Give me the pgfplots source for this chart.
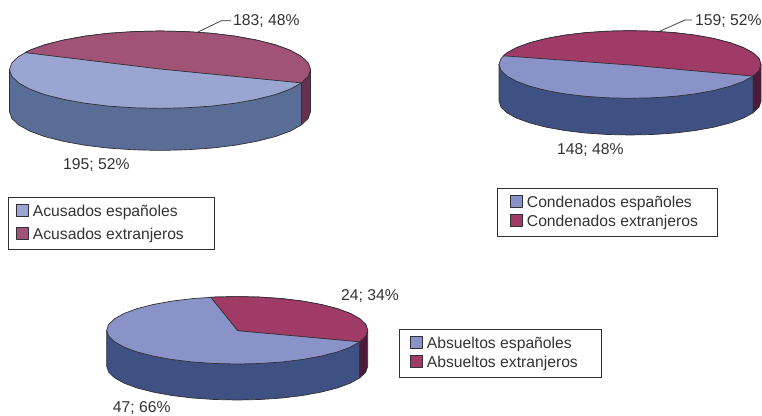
\documentclass[border=0pt]{standalone}
\usepackage{fontspec}
\setmainfont{Liberation Sans}
\usepackage{pgfplots}
\pgfplotsset{compat=1.18}

\definecolor{bluetopA}{HTML}{9AA5D2}
\definecolor{redtopA}{HTML}{A05376}
\definecolor{bluesideA}{HTML}{5A6D96}
\definecolor{redsideA}{HTML}{65324F}
\definecolor{bluetop}{HTML}{8A93C8}
\definecolor{redtop}{HTML}{A03A66}
\definecolor{blueside}{HTML}{3F5182}
\definecolor{redside}{HTML}{4E1A3A}
\definecolor{edge}{HTML}{2F2F35}
\definecolor{txt}{HTML}{333333}

\newcommand{\lab}{\fontsize{15.7}{18}\selectfont\color{txt}}

\pgfplotsset{
  canvas/.style={
    at={(0pt,0pt)}, anchor=south west,
    scale only axis, width=762pt, height=415pt,
    xmin=0, xmax=762, ymin=0, ymax=415, y dir=reverse,
    hide axis, clip=false, area legend,
    legend image code/.code={\draw[##1] (0pt,-6pt) rectangle (12pt,6pt);},
  },
  slice/.style={draw=edge, line width=0.7pt, line join=round, fill=#1},
  box/.style={
    legend cell align=left,
    legend style={
      anchor=north west, draw=none, fill=none, inner sep=0pt, font=\lab,
      nodes={inner sep=0pt, text height=14.5pt, text depth=1.5pt},
      /tikz/column 1/.style={column sep=4pt},
    },
  },
}

\begin{document}
\begin{tikzpicture}
\useasboundingbox (0pt,0pt) rectangle (762pt,415pt);

% Acusados
\begin{axis}[canvas, box, legend style={at={(axis cs:16,202)}, row sep=7pt}]
\addplot[slice=bluesideA, forget plot] coordinates {(9.5,69.7)(9.5,111.7)(11.8,118.4)(18.6,124.9)(29.7,131.1)(44.7,136.6)(63.3,141.3)(84.7,145.2)(108.5,148.1)(133.9,149.8)(160,150.4)(186.1,149.8)(211.5,148.1)(235.3,145.2)(256.7,141.3)(275.3,136.6)(290.3,131.1)(301.4,124.9)(301.4,82.9)} -- cycle;
\addplot[slice=redsideA, forget plot] coordinates {(301.4,82.9)(301.4,124.9)(308.2,118.4)(310.5,111.7)(310.5,69.7)(308.2,76.4)} -- cycle;
\addplot[slice=bluetopA] coordinates {(310.5,69.7)(308.2,63)(301.4,56.5)(290.3,50.3)(275.3,44.8)(256.7,40.1)(235.3,36.2)(211.5,33.3)(186.1,31.6)(160,31)(133.9,31.6)(108.5,33.3)(84.7,36.2)(63.3,40.1)(44.7,44.8)(29.7,50.3)(18.6,56.5)(11.8,63)(9.5,69.7)(11.8,76.4)(18.6,82.9)(29.7,89.1)(44.7,94.6)(63.3,99.3)(84.7,103.2)(108.5,106.1)(133.9,107.8)(160,108.4)(186.1,107.8)(211.5,106.1)(235.3,103.2)(256.7,99.3)(275.3,94.6)(290.3,89.1)(301.4,82.9)(308.2,76.4)} -- cycle;
\addlegendentry{Acusados españoles}
\addplot[slice=redtopA] coordinates {(25,52.6)(29.7,50.3)(44.7,44.8)(63.3,40.1)(84.7,36.2)(108.5,33.3)(133.9,31.6)(160,31)(186.1,31.6)(211.5,33.3)(235.3,36.2)(256.7,40.1)(275.3,44.8)(290.3,50.3)(301.4,56.5)(308.2,63)(310.5,69.7)(308.2,76.4)(301.4,82.9)(160,69)} -- cycle;
\addlegendentry{Acusados extranjeros}
\addplot[edge, line width=0.7pt, forget plot] coordinates {(198,32)(221.5,20.7)(231,20.7)};
\node[anchor=base west, inner sep=0pt, font=\lab] at (axis cs:233,25.7) {183; 48\%};
\node[anchor=base west, inner sep=0pt, font=\lab] at (axis cs:63,169.3) {195; 52\%};
\draw[edge, line width=0.7pt] (axis cs:8,197) rectangle (axis cs:214,249);
\end{axis}

% Condenados
\begin{axis}[canvas, box, legend style={at={(axis cs:510,193)}, row sep=3pt}]
\addplot[slice=blueside, forget plot] coordinates {(499,64.5)(499,101.2)(501,107.1)(506.9,112.8)(516.6,118.1)(529.7,122.9)(545.8,127.1)(564.5,130.5)(585.2,133)(607.3,134.5)(630,135)(652.7,134.5)(674.8,133)(695.5,130.5)(714.2,127.1)(730.3,122.9)(743.4,118.1)(753.1,112.8)(753.1,76.1)} -- cycle;
\addplot[slice=redside, forget plot] coordinates {(753.1,76.1)(753.1,112.8)(759,107.1)(761,101.2)(761,64.5)(759,70.4)} -- cycle;
\addplot[slice=bluetop] coordinates {(761,64.5)(759,58.6)(753.1,52.9)(743.4,47.6)(730.3,42.8)(714.2,38.6)(695.5,35.2)(674.8,32.7)(652.7,31.2)(630,30.7)(607.3,31.2)(585.2,32.7)(564.5,35.2)(545.8,38.6)(529.7,42.8)(516.6,47.6)(506.9,52.9)(501,58.6)(499,64.5)(501,70.4)(506.9,76.1)(516.6,81.4)(529.7,86.2)(545.8,90.4)(564.5,93.8)(585.2,96.3)(607.3,97.8)(630,98.3)(652.7,97.8)(674.8,96.3)(695.5,93.8)(714.2,90.4)(730.3,86.2)(743.4,81.4)(753.1,76.1)(759,70.4)} -- cycle;
\addlegendentry{Condenados españoles}
\addplot[slice=redtop] coordinates {(503.5,55.8)(506.9,52.9)(516.6,47.6)(529.7,42.8)(545.8,38.6)(564.5,35.2)(585.2,32.7)(607.3,31.2)(630,30.7)(652.7,31.2)(674.8,32.7)(695.5,35.2)(714.2,38.6)(730.3,42.8)(743.4,47.6)(753.1,52.9)(759,58.6)(761,64.5)(759,70.4)(753.1,76.1)(630,65)} -- cycle;
\addlegendentry{Condenados extranjeros}
\addplot[edge, line width=0.7pt, forget plot] coordinates {(658,32)(685,20)(692,20)};
\node[anchor=base west, inner sep=0pt, font=\lab] at (axis cs:695,25.7) {159; 52\%};
\node[anchor=base west, inner sep=0pt, font=\lab] at (axis cs:557,154.3) {148; 48\%};
\draw[edge, line width=0.7pt] (axis cs:497.5,188.5) rectangle (axis cs:717.5,236);
\end{axis}

% Absueltos
\begin{axis}[canvas, box, legend style={at={(axis cs:410,333.7)}, row sep=3.3pt}]
\addplot[slice=blueside, forget plot] coordinates {(106.7,330.3)(106.7,366.3)(108.7,372.2)(114.6,377.8)(124.2,383.2)(137.2,388)(153.3,392.1)(171.9,395.5)(192.6,398)(214.5,399.5)(237.2,400)(259.9,399.5)(281.8,398)(302.5,395.5)(321.1,392.1)(337.2,388)(350.2,383.2)(359.8,377.8)(359.8,341.8)} -- cycle;
\addplot[slice=redside, forget plot] coordinates {(359.8,341.8)(359.8,377.8)(365.7,372.2)(367.7,366.3)(367.7,330.3)(365.7,336.2)} -- cycle;
\addplot[slice=bluetop] coordinates {(367.7,330.3)(365.7,324.4)(359.8,318.8)(350.2,313.4)(337.2,308.6)(321.1,304.5)(302.5,301.1)(281.8,298.6)(259.9,297.1)(237.2,296.6)(214.5,297.1)(192.6,298.6)(171.9,301.1)(153.3,304.5)(137.2,308.6)(124.2,313.4)(114.6,318.8)(108.7,324.4)(106.7,330.3)(108.7,336.2)(114.6,341.8)(124.2,347.2)(137.2,352)(153.3,356.1)(171.9,359.5)(192.6,362)(214.5,363.5)(237.2,364)(259.9,363.5)(281.8,362)(302.5,359.5)(321.1,356.1)(337.2,352)(350.2,347.2)(359.8,341.8)(365.7,336.2)} -- cycle;
\addlegendentry{Absueltos españoles}
\addplot[slice=redtop] coordinates {(210.7,297.2)(214.5,297.1)(237.2,296.6)(259.9,297.1)(281.8,298.6)(302.5,301.1)(321.1,304.5)(337.2,308.6)(350.2,313.4)(359.8,318.8)(365.7,324.4)(367.7,330.3)(365.7,336.2)(359.8,341.8)(237.7,330.7)} -- cycle;
\addlegendentry{Absueltos extranjeros}
\node[anchor=base west, inner sep=0pt, font=\lab] at (axis cs:341,300) {24; 34\%};
\node[anchor=base west, inner sep=0pt, font=\lab] at (axis cs:112.7,412.3) {47; 66\%};
\draw[edge, line width=0.7pt] (axis cs:399,329.5) rectangle (axis cs:601.5,377.3);
\end{axis}

\end{tikzpicture}
\end{document}
